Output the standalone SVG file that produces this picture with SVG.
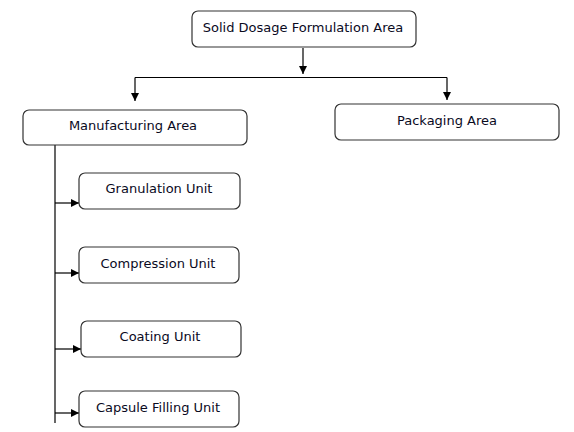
<svg xmlns="http://www.w3.org/2000/svg" width="574" height="432" viewBox="0 0 574 432">
<style>
.box{fill:#fff;stroke:#333;stroke-width:1.2}
.lbl{font-family:"DejaVu Sans","Liberation Sans",sans-serif;font-size:13px;fill:#0a0a1e;text-anchor:middle;dominant-baseline:central}
.ln{fill:none;stroke:#000;stroke-width:1.2}
</style>
<defs>
<marker id="ah" viewBox="0 0 10 10" refX="10" refY="5" markerWidth="8" markerHeight="8" markerUnits="userSpaceOnUse" orient="auto">
<path d="M0,0 L10,5 L0,10 z" fill="#000"/>
</marker>
</defs>
<rect width="574" height="432" fill="#fff"/>
<g id="connectors">
<path class="ln" d="M303,48 V74" marker-end="url(#ah)"/>
<path class="ln" d="M135,77.5 H447"/>
<path class="ln" d="M135,77.5 V101" marker-end="url(#ah)"/>
<path class="ln" d="M447,77.5 V100" marker-end="url(#ah)"/>
<path class="ln" d="M55,145 V423"/>
<path class="ln" d="M55,203 H79" marker-end="url(#ah)"/>
<path class="ln" d="M55,273 H79" marker-end="url(#ah)"/>
<path class="ln" d="M55,349 H81" marker-end="url(#ah)"/>
<path class="ln" d="M55,413 H79" marker-end="url(#ah)"/>
</g>
<g id="solid-dosage">
<rect class="box" x="192" y="11" width="224" height="36" rx="6"/>
<text class="lbl" x="303" y="27">Solid Dosage Formulation Area</text>
</g>
<g id="manufacturing">
<rect class="box" x="23" y="110" width="224" height="35" rx="6"/>
<text class="lbl" x="133" y="125">Manufacturing Area</text>
</g>
<g id="packaging">
<rect class="box" x="335" y="104" width="224" height="36" rx="6"/>
<text class="lbl" x="447" y="120">Packaging Area</text>
</g>
<g id="granulation">
<rect class="box" x="79" y="173" width="161" height="36" rx="6"/>
<text class="lbl" x="159" y="188">Granulation Unit</text>
</g>
<g id="compression">
<rect class="box" x="79" y="247" width="160" height="36" rx="6"/>
<text class="lbl" x="158" y="263">Compression Unit</text>
</g>
<g id="coating">
<rect class="box" x="81" y="321" width="160" height="36" rx="6"/>
<text class="lbl" x="160" y="336">Coating Unit</text>
</g>
<g id="capsule">
<rect class="box" x="79" y="391" width="160" height="36" rx="6"/>
<text class="lbl" x="158" y="407">Capsule Filling Unit</text>
</g>
</svg>
